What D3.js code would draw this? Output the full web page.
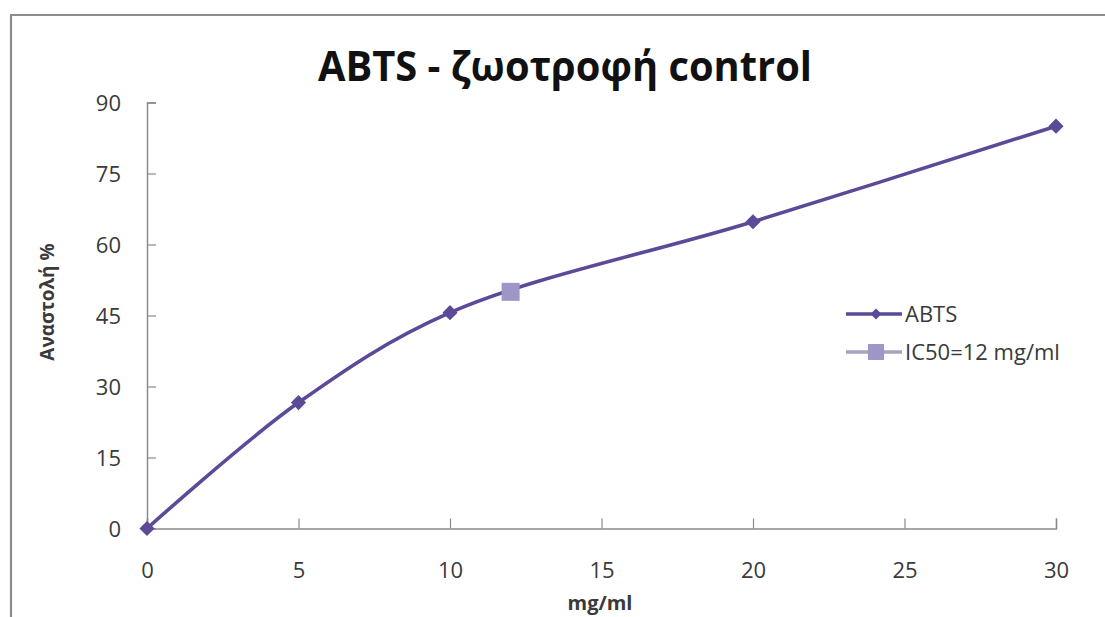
<!DOCTYPE html>
<html>
<head>
<meta charset="utf-8">
<script src="https://cdn.jsdelivr.net/npm/d3@7"></script>
<style>
  html, body { margin: 0; padding: 0; background: #ffffff; }
  svg { display: block; }
  text { font-family: "Open Sans", "Noto Sans", sans-serif; }
</style>
</head>
<body>
<svg id="chart" width="1105" height="617"></svg>
<script>
// Concentration (mg/ml) and inhibition (%) for the ABTS assay
const concentrations = [0, 5, 10, 20, 30];
const inhibition = [0, 26.6, 45.6, 64.8, 85.0];

// IC50 point
const ic50Concentration = [12];
const ic50Inhibition = [50];

const xTicks = [0, 5, 10, 15, 20, 25, 30];
const yTicks = [0, 15, 30, 45, 60, 75, 90];

const titleText = "ABTS - ζωοτροφή control";
const xTitle = "mg/ml";
const yTitle = "Αναστολή %";
const legendLabels = ["ABTS", "IC50=12 mg/ml"];

const lineColor = "#5c4998";
const icColor = "#9f96c8";
const icLegendLine = "#a7a2c2";
const axisColor = "#8a8a8a";
const textColor = "#3a3a3a";

const svg = d3.select("#chart");

// Chart frame (top and left edges)
svg.append("path")
  .attr("d", "M11,617 L11,15 L1105,15")
  .attr("fill", "none")
  .attr("stroke", "#8c8c8c")
  .attr("stroke-width", 2.2);

const x = d3.scaleLinear().domain([0, 30]).range([147, 1056]);
const y = d3.scaleLinear().domain([0, 90]).range([528.5, 102.5]);

// Title
svg.append("text")
  .attr("x", 565)
  .attr("y", 81)
  .attr("text-anchor", "middle")
  .attr("font-size", 41)
  .attr("font-weight", "bold")
  .attr("fill", "#111")
  .attr("textLength", 494)
  .attr("lengthAdjust", "spacingAndGlyphs")
  .text(titleText);

// Axes: ticks point into the plot
const xAxis = d3.axisBottom(x).tickValues(xTicks).tickSize(-10).tickPadding(34).tickFormat(d3.format("d"));
const yAxis = d3.axisLeft(y).tickValues(yTicks).tickSize(-9).tickPadding(26).tickFormat(d3.format("d"));

const gx = svg.append("g").attr("transform", `translate(0,${y(0)})`).call(xAxis);
const gy = svg.append("g").attr("transform", `translate(${x(0)},0)`).call(yAxis);

[gx, gy].forEach(g => {
  g.select(".domain").attr("stroke", axisColor).attr("stroke-width", 1.5);
  g.selectAll(".tick line").attr("stroke", axisColor).attr("stroke-width", 1.2);
  g.selectAll(".tick text")
    .attr("fill", textColor)
    .attr("font-size", 22)
    .attr("font-family", "'Open Sans', sans-serif");
});
gx.selectAll(".tick text").attr("dy", "0.71em");
gy.selectAll(".tick text").attr("dy", "0.35em");

// Axis titles
svg.append("text")
  .attr("x", 600)
  .attr("y", 610)
  .attr("text-anchor", "middle")
  .attr("font-size", 20)
  .attr("font-weight", "bold")
  .attr("fill", textColor)
  .text(xTitle);

svg.append("text")
  .attr("transform", "translate(54,302) rotate(-90)")
  .attr("text-anchor", "middle")
  .attr("font-size", 19)
  .attr("font-weight", "bold")
  .attr("fill", textColor)
  .text(yTitle);

// Smoothed ABTS curve
const pts = concentrations.map((c, i) => [c, inhibition[i]]);
const line = d3.line()
  .x(d => x(d[0]))
  .y(d => y(d[1]))
  .curve(d3.curveCatmullRom.alpha(0.5));

svg.append("path")
  .datum(pts)
  .attr("d", line)
  .attr("fill", "none")
  .attr("stroke", lineColor)
  .attr("stroke-width", 3.6)
  .attr("stroke-linejoin", "round");

const diamond = d3.symbol().type(d3.symbolSquare).size(115);
svg.selectAll(".pt")
  .data(pts)
  .join("path")
  .attr("class", "pt")
  .attr("d", diamond)
  .attr("transform", d => `translate(${x(d[0])},${y(d[1])}) rotate(45)`)
  .attr("fill", lineColor);

// IC50 marker
const icPts = ic50Concentration.map((c, i) => [c, ic50Inhibition[i]]);
svg.selectAll(".ic")
  .data(icPts)
  .join("rect")
  .attr("class", "ic")
  .attr("x", d => x(d[0]) - 9)
  .attr("y", d => y(d[1]) - 9)
  .attr("width", 18)
  .attr("height", 18)
  .attr("fill", icColor);

// Legend
const lg = svg.append("g");
const legendRows = [
  { label: legendLabels[0], y: 314, color: lineColor, marker: "diamond" },
  { label: legendLabels[1], y: 352, color: icLegendLine, marker: "square" }
];
legendRows.forEach(r => {
  lg.append("line")
    .attr("x1", 846).attr("x2", 902)
    .attr("y1", r.y).attr("y2", r.y)
    .attr("stroke", r.color)
    .attr("stroke-width", 3.6);
  if (r.marker === "diamond") {
    lg.append("path")
      .attr("d", d3.symbol().type(d3.symbolSquare).size(60)())
      .attr("transform", `translate(876,${r.y}) rotate(45)`)
      .attr("fill", lineColor);
  } else {
    lg.append("rect")
      .attr("x", 868).attr("y", r.y - 8)
      .attr("width", 16).attr("height", 16)
      .attr("fill", icColor);
  }
  lg.append("text")
    .attr("x", 905)
    .attr("y", r.y)
    .attr("dy", "0.35em")
    .attr("font-size", 22)
    .attr("fill", textColor)
    .text(r.label);
});
</script>
</body>
</html>
